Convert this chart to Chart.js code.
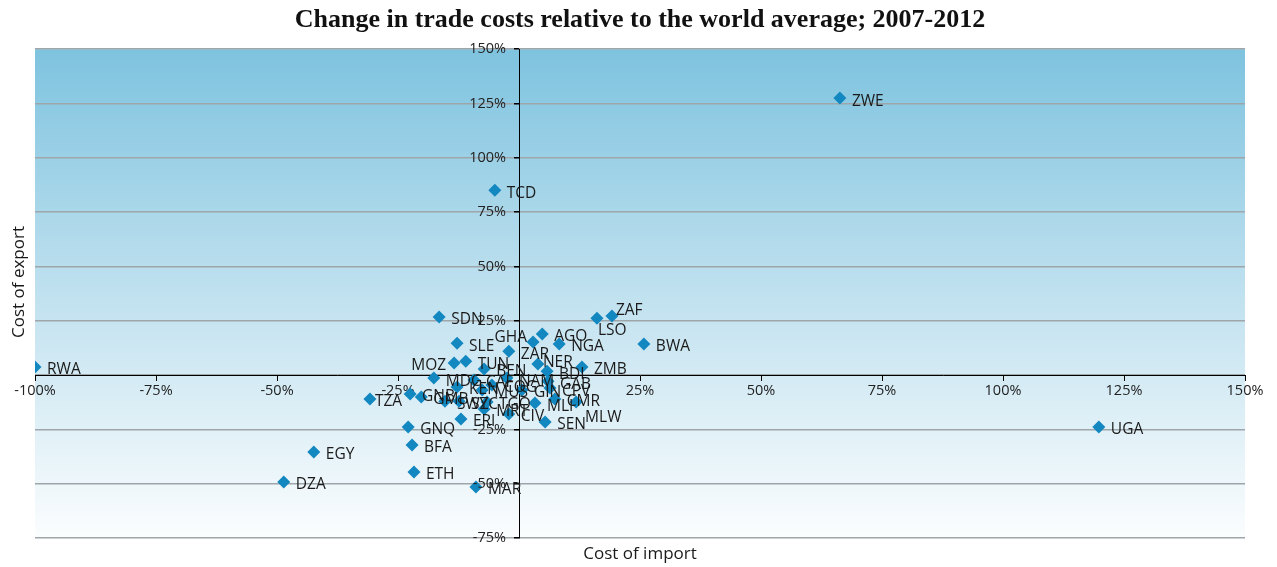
<!DOCTYPE html>
<html>
<head>
<meta charset="utf-8">
<title>Trade costs</title>
<script src="https://cdn.jsdelivr.net/npm/chart.js@4.4.1/dist/chart.umd.min.js"></script>
<style>
  html, body { margin: 0; padding: 0; background: #fff; }
  #wrap { width: 1277px; height: 567px; }
</style>
</head>
<body>
<div id="wrap"><canvas id="trade-chart"></canvas></div>
<script>
// Country codes and % change of import / export cost vs world average
var countries = ['ZWE','TCD','RWA','UGA','SDN','ZAF','LSO','AGO','GHA','NGA','BWA','SLE','ZAR','MOZ','TUN','NER','ZMB','BEN','BDI','MDG','CAF','NAM','GAB','COG','KEN','MUS','CPV','GIN','TZA','GNB','GMB','SWZ','SYC','TGO','MLI','CMR','MLW','MRT','CIV','ERI','SEN','GNQ','EGY','BFA','ETH','DZA','MAR'];
var importCost = [66.3,-5.0,-100.0,119.8,-16.5,19.2,16.1,4.8,2.9,8.3,25.8,-12.8,-2.1,-13.4,-11.0,3.9,13.0,-7.2,5.8,-17.6,-9.3,-2.5,6.0,-5.6,-12.8,-7.6,6.4,0.6,-30.8,-22.5,-20.2,-15.3,-12.4,-6.6,3.3,7.4,11.8,-7.2,-2.1,-12.0,5.4,-22.9,-42.4,-22.1,-21.7,-48.6,-8.9];
var exportCost = [127.5,85.1,3.7,-23.9,26.7,27.2,26.2,18.9,15.2,14.3,14.3,14.7,11.0,5.5,6.4,5.1,3.7,2.8,1.8,-1.4,-2.3,-1.4,-2.8,-4.6,-5.5,-6.9,-6.0,-6.9,-11.0,-8.7,-10.1,-12.0,-12.0,-12.4,-12.9,-11.0,-12.4,-15.6,-17.9,-20.2,-21.6,-23.9,-35.4,-32.2,-44.6,-49.2,-51.5];
var xTicks = [-100, 150, 25];
var yTicks = [-75, 150, 25];

(function() {
    'use strict';

    var points = countries.map(function(c, i) {
        return { x: importCost[i], y: exportCost[i] };
    });

    var sans = '"Open Sans", "Noto Sans", sans-serif';

    // labels that were nudged away from the default right-hand spot
    var labelShift = {
        MOZ: [-8, 2, 'right'],
        GHA: [-6, -4, 'right'],
        LSO: [1, 12],
        ZAF: [4, -5],
        MLW: [9, 16],
        NER: [5, -1],
        TZA: [5, 3]
    };

    function pct(v) {
        return v === 0 ? '' : v + '%';
    }

    var backdrop = {
        id: 'backdrop',
        beforeDraw: function(chart) {
            var a = chart.chartArea, ctx = chart.ctx;
            var g = ctx.createLinearGradient(0, a.top, 0, a.bottom);
            g.addColorStop(0, '#7ec3df');
            g.addColorStop(0.5, '#c0e1ef');
            g.addColorStop(1, '#fbfdfe');
            ctx.save();
            ctx.fillStyle = g;
            ctx.fillRect(a.left, a.top, a.right - a.left, a.bottom - a.top);
            ctx.restore();
        }
    };

    var pointLabels = {
        id: 'pointLabels',
        afterDatasetsDraw: function(chart) {
            var ctx = chart.ctx;
            var meta = chart.getDatasetMeta(0);
            ctx.save();
            ctx.font = '15.5px ' + sans;
            ctx.fillStyle = '#1a1a1a';
            ctx.textBaseline = 'middle';
            meta.data.forEach(function(el, i) {
                var name = countries[i];
                var s = labelShift[name] || [12, 3];
                ctx.textAlign = s[2] || 'left';
                ctx.fillText(name, el.x + s[0], el.y + s[1]);
            });
            ctx.restore();
        }
    };

    // y tick labels sit a little left of the crossing axis
    var yLabels = {
        id: 'yLabels',
        afterDraw: function(chart) {
            var ctx = chart.ctx;
            var xs = chart.scales.x, ys = chart.scales.y;
            var x0 = xs.getPixelForValue(0);
            ctx.save();
            ctx.font = '14.5px ' + sans;
            ctx.fillStyle = '#222';
            ctx.textAlign = 'right';
            ctx.textBaseline = 'middle';
            ys.ticks.forEach(function(t) {
                ctx.fillText(pct(t.value), x0 - 13, ys.getPixelForValue(t.value));
            });
            ctx.restore();
        }
    };

    var axisTitles = {
        id: 'axisTitles',
        afterDraw: function(chart) {
            var ctx = chart.ctx, a = chart.chartArea;
            ctx.save();
            ctx.font = '17px ' + sans;
            ctx.fillStyle = '#1a1a1a';
            ctx.textAlign = 'center';
            ctx.textBaseline = 'middle';
            ctx.fillText('Cost of import', 640, a.bottom + 16);
            ctx.translate(19, 282);
            ctx.rotate(-Math.PI / 2);
            ctx.fillText('Cost of export', 0, 0);
            ctx.restore();
        }
    };

    new Chart(document.getElementById('trade-chart'), {
        type: 'scatter',
        data: {
            datasets: [{
                label: 'Trade costs',
                data: points,
                pointStyle: 'rectRot',
                pointRadius: 6.5,
                pointHoverRadius: 6.5,
                backgroundColor: '#1287c0',
                borderColor: '#1287c0',
                borderWidth: 0
            }]
        },
        options: {
            responsive: true,
            maintainAspectRatio: false,
            animation: false,
            layout: { padding: { top: 5, left: 35, right: 32, bottom: 29 } },
            plugins: {
                legend: { display: false },
                tooltip: { enabled: false },
                title: {
                    display: true,
                    text: 'Change in trade costs relative to the world average; 2007-2012',
                    color: '#111',
                    font: { family: '"Liberation Serif", "DejaVu Serif", serif', size: 26, weight: 'bold' },
                    padding: { top: 0, bottom: 13 }
                }
            },
            scales: {
                x: {
                    type: 'linear',
                    position: { y: 0 },
                    min: xTicks[0],
                    max: xTicks[1],
                    afterFit: function(s) { s.height = 0; },
                    ticks: {
                        stepSize: xTicks[2],
                        callback: pct,
                        color: '#222',
                        font: { family: sans, size: 14.5 },
                        padding: 2,
                        maxRotation: 0
                    },
                    grid: { drawOnChartArea: false, tickLength: 5, tickColor: '#000' },
                    border: { color: '#000', width: 1 }
                },
                y: {
                    type: 'linear',
                    position: { x: 0 },
                    min: yTicks[0],
                    max: yTicks[1],
                    afterFit: function(s) { s.width = 0; },
                    ticks: { stepSize: yTicks[2], display: false },
                    grid: { color: '#9ea6aa', lineWidth: 1.5, tickLength: 5, tickColor: '#000' },
                    border: { color: '#000', width: 1 }
                }
            }
        },
        plugins: [backdrop, pointLabels, yLabels, axisTitles]
    });
})();
</script>
</body>
</html>
